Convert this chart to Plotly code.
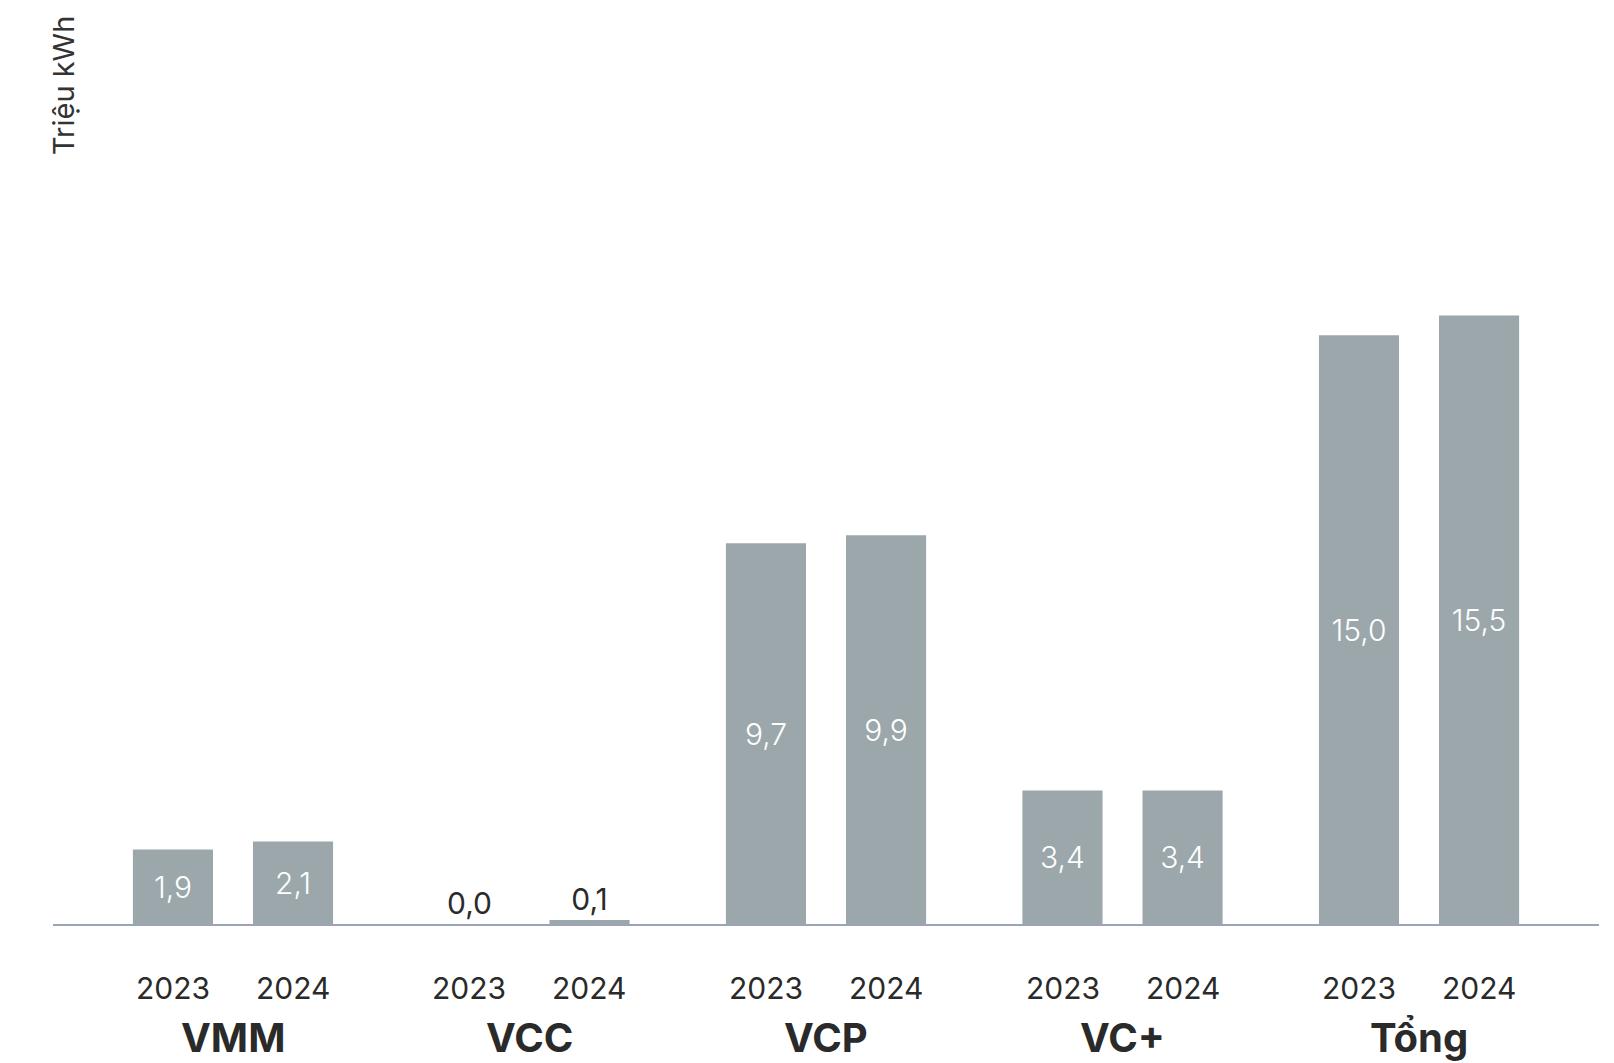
import plotly.graph_objects as go

groups = ["VMM", "VCC", "VCP", "VC+", "Tổng"]
years = ["2023", "2024"]
values_2023 = [1.9, 0.0, 9.7, 3.4, 15.0]
values_2024 = [2.1, 0.1, 9.9, 3.4, 15.5]
text_pos = ["inside", "outside", "inside", "inside", "inside"]
y_title = "Triệu kWh"

BAR = "#9ba7ab"
DARK = "#2a2a2a"
FONT = "Inter"

def fmt(v):
    return f"{v:.1f}".replace(".", ",")

fig = go.Figure()
for yr, vals in zip(years, [values_2023, values_2024]):
    fig.add_trace(go.Bar(
        x=groups, y=vals, name=yr,
        marker=dict(color=BAR, line=dict(width=0)),
        text=[fmt(v) for v in vals],
        textposition=text_pos,
        insidetextanchor="middle",
        insidetextfont=dict(color="white", size=30, family=FONT, weight=300),
        outsidetextfont=dict(color=DARK, size=30, family=FONT, weight=400),
        textangle=0,
        cliponaxis=False,
        constraintext="none",
    ))

# plot area geometry (pixels)
L, R, T, B = 53, 15, 80, 139
W, Hh = 1614, 1063
plot_h = Hh - T - B

annotations = []
for g in groups:
    for k, yr in enumerate(years):
        annotations.append(dict(
            x=g, xref="x", xshift=(-60 if k == 0 else 60),
            y=-(988 - (Hh - B)) / plot_h, yref="paper", yanchor="middle",
            text=yr, showarrow=False,
            font=dict(size=30, color=DARK, family=FONT),
        ))
    annotations.append(dict(
        x=g, xref="x",
        y=-(1037 - (Hh - B)) / plot_h, yref="paper", yanchor="middle",
        text=g, showarrow=False,
        font=dict(size=40, color=DARK, family=FONT, weight=700),
    ))
annotations.append(dict(
    x=(63 - L) / (W - L - R), xref="paper", xanchor="center",
    y=((Hh - B) - 86) / plot_h, yref="paper", yanchor="middle",
    text=y_title, textangle=-90, showarrow=False,
    font=dict(size=29, color="#333333", family=FONT),
))

fig.update_layout(
    width=W, height=Hh,
    margin=dict(l=L, r=R, t=T, b=B, pad=0),
    paper_bgcolor="white", plot_bgcolor="white",
    barmode="group", bargap=0.19, bargroupgap=0.333,
    showlegend=False,
    font=dict(family=FONT, color=DARK),
    xaxis=dict(
        type="category", range=[-0.607, 4.607],
        showticklabels=False, ticks="", showgrid=False, zeroline=False,
        showline=True, linecolor="#9aa3b8", linewidth=2,
    ),
    yaxis=dict(
        range=[0, 21.5], showticklabels=False, ticks="", showgrid=False,
        zeroline=False, showline=False,
    ),
    annotations=annotations,
)

fig.write_html("out.html")
